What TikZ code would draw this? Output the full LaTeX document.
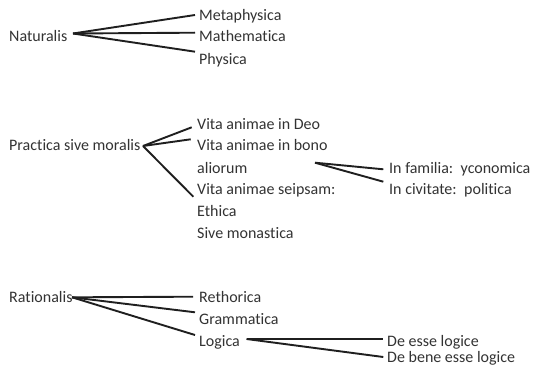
\documentclass[tikz,border=0pt]{standalone}
\usepackage{fontspec}
\setmainfont{Carlito}[Ligatures=NoCommon]
\begin{document}
\begin{tikzpicture}[x=1pt,y=-1pt,
  lbl/.style={anchor=base west,inner sep=0pt,text=black!80,font=\fontsize{16}{19}\selectfont},
  br/.style={draw=black!88,line width=1.9pt}]
\useasboundingbox[fill=white] (0,0) rectangle (534,366);
% Naturalis
\node[lbl] (nat) at (9,41.5) {Naturalis};
\node[lbl] (meta) at (199,21) {Metaphysica};
\node[lbl] (math) at (199,41.5) {Mathematica};
\node[lbl] (phys) at (199,65) {Physica};
\coordinate (natj) at (73,33.5);
\draw[br] (natj) -- ([xshift=-4pt,yshift=6pt]meta.base west);
\draw[br] (natj) -- ([xshift=-4pt,yshift=8.8pt]math.base west);
\draw[br] (natj) -- ([xshift=-4pt,yshift=13.3pt]phys.base west);
% Practica
\node[lbl] (prac) at (9,150.8) {Practica sive moralis};
\node[lbl] (deo) at (197,129.8) {Vita animae in Deo};
\node[lbl] (bono) at (197,150.8) {Vita animae in bono};
\node[lbl] (ali) at (197,173) {aliorum};
\node[lbl] (seip) at (197,194.8) {Vita animae seipsam:};
\node[lbl] (eth) at (197,216.5) {Ethica};
\node[lbl] (sive) at (197,238) {Sive monastica};
\coordinate (pracj) at (143,146);
\draw[br] (pracj) -- ([xshift=-5.3pt,yshift=2.5pt]deo.base west);
\draw[br] (pracj) -- ([xshift=-6.3pt,yshift=11.5pt]bono.base west);
\draw[br] (pracj) -- ([xshift=-3.7pt,yshift=-1.9pt]seip.base west);
\node[lbl] (fam) at (389,173) {In familia:\, yconomica};
\node[lbl] (civ) at (389,194) {In civitate:\, politica};
\coordinate (alij) at (315,162.7);
\draw[br] (alij) -- ([xshift=-5.7pt,yshift=3.7pt]fam.base west);
\draw[br] (alij) -- ([xshift=-5.7pt,yshift=12.3pt]civ.base west);
% Rationalis
\node[lbl] (rat) at (9,302) {Rationalis};
\node[lbl] (reth) at (199,302.5) {Rethorica};
\node[lbl] (gram) at (199,324) {Grammatica};
\node[lbl] (log) at (199,346) {Logica};
\coordinate (ratj) at (72,297.3);
\draw[br] (ratj) -- ([xshift=-6pt,yshift=5.8pt]reth.base west);
\draw[br] (ratj) -- ([xshift=-4pt,yshift=11.7pt]gram.base west);
\draw[br] (ratj) -- ([xshift=-4pt,yshift=11pt]log.base west);
\node[lbl] (dees) at (387,346) {De esse logice};
\node[lbl] (debe) at (387,362.5) {De bene esse logice};
\coordinate (logj) at (246.5,339);
\draw[br] (logj) -- ([xshift=-3.7pt,yshift=7pt]dees.base west);
\draw[br] (logj) -- ([xshift=-3.7pt,yshift=5.5pt]debe.base west);
\end{tikzpicture}
\end{document}
